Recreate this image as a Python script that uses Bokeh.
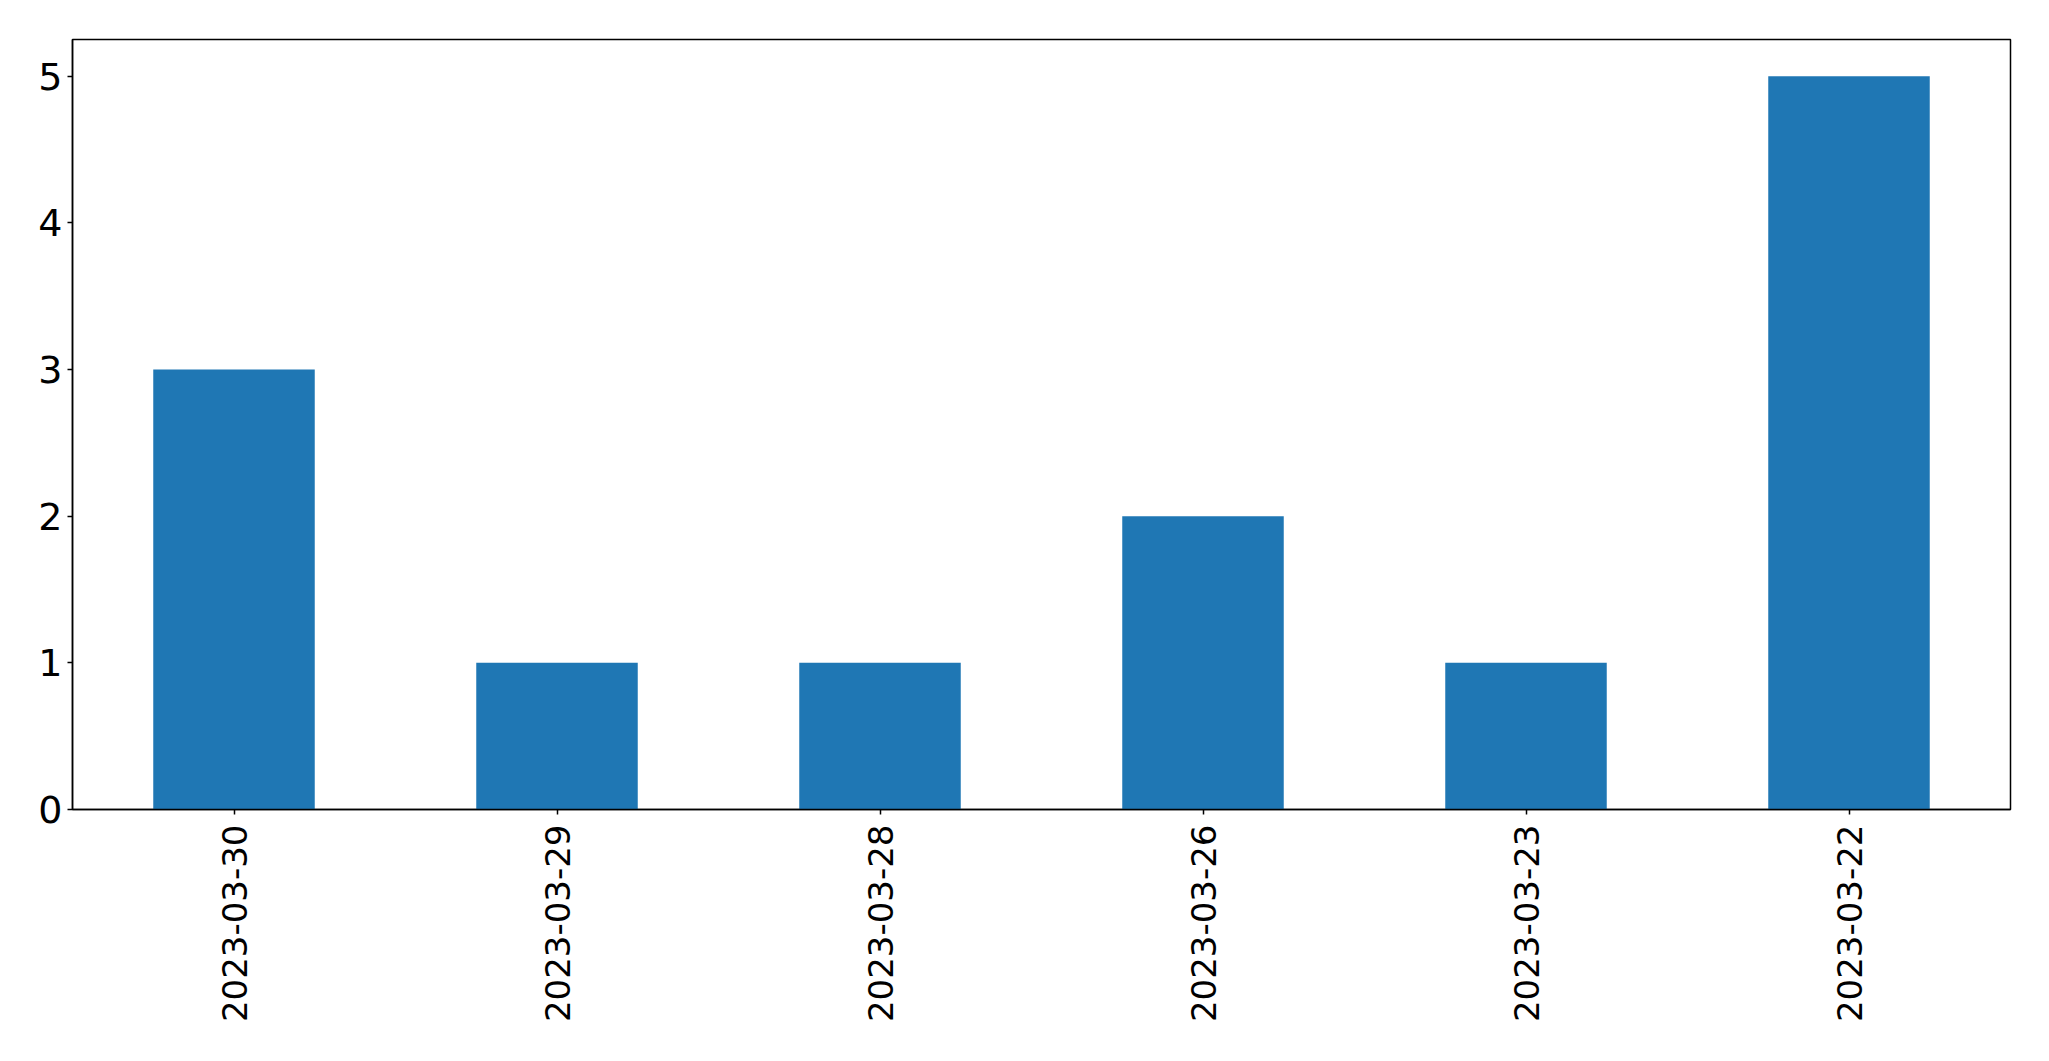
import math
from bokeh.plotting import figure
from bokeh.models import FactorRange, Range1d, ColumnDataSource, FixedTicker
from bokeh.embed import file_html
from bokeh.resources import INLINE

dates = ["2023-03-30", "2023-03-29", "2023-03-28", "2023-03-26", "2023-03-23", "2023-03-22"]
counts = [3, 1, 1, 2, 1, 5]
y_ticks = [0, 1, 2, 3, 4, 5]

src = ColumnDataSource(data=dict(x=dates, y=counts))

p = figure(width=2041, height=1053, output_backend="svg", toolbar_location=None,
           x_range=FactorRange(factors=dates, range_padding=0),
           y_range=Range1d(0, 5.25),
           min_border_left=72, min_border_right=31, min_border_top=39, min_border_bottom=244)

p.vbar(x="x", top="y", bottom=0, width=0.5, source=src, color="#1f77b4", line_color=None)

p.xgrid.visible = False
p.ygrid.visible = False
p.outline_line_color = "black"
p.outline_line_width = 1.5
p.background_fill_color = "white"
p.border_fill_color = "white"

p.yaxis.ticker = FixedTicker(ticks=y_ticks)
for ax in (p.xaxis[0], p.yaxis[0]):
    ax.axis_line_color = "black"
    ax.axis_line_width = 1.5
    ax.major_tick_line_color = "black"
    ax.major_tick_line_width = 1.5
    ax.major_tick_out = 5
    ax.major_tick_in = 0
    ax.minor_tick_line_color = None
    ax.major_label_text_font = "DejaVu Sans"
    ax.major_label_text_color = "black"

p.xaxis.major_label_text_font_size = "34px"
p.yaxis.major_label_text_font_size = "38px"
p.yaxis.major_label_standoff = 5
p.xaxis.major_label_standoff = 10
p.xaxis.major_label_orientation = math.pi / 2
p.xaxis.group_text_font_size = "0px"

open("out.html", "w").write(file_html(p, INLINE))
